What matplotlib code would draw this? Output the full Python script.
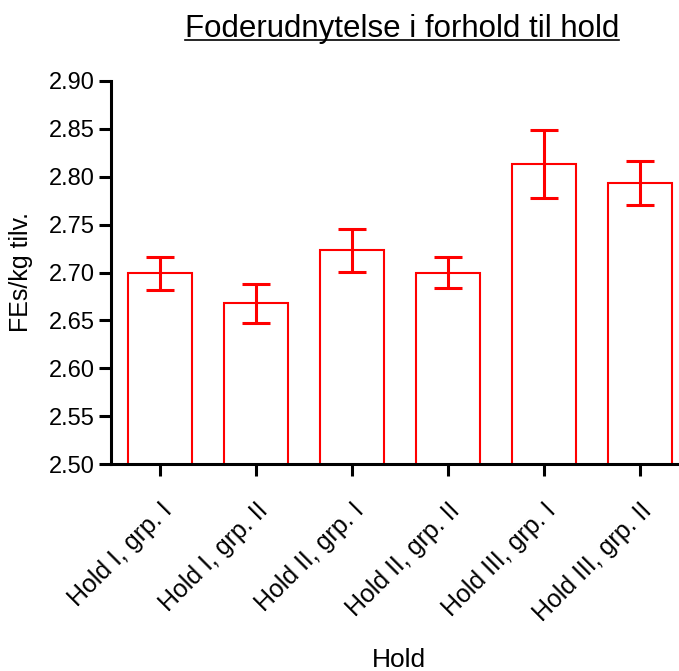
import matplotlib.pyplot as plt
from matplotlib.lines import Line2D

plt.rcParams['font.family'] = ['Liberation Sans', 'DejaVu Sans']

# data
groups = ['Hold I, grp. I', 'Hold I, grp. II', 'Hold II, grp. I',
          'Hold II, grp. II', 'Hold III, grp. I', 'Hold III, grp. II']
means = [2.699, 2.668, 2.723, 2.700, 2.813, 2.793]
errors = [0.0175, 0.0205, 0.022, 0.016, 0.0355, 0.023]
yticks = [2.50, 2.55, 2.60, 2.65, 2.70, 2.75, 2.80, 2.85, 2.90]

fig = plt.figure(figsize=(6.79, 6.71), dpi=100)
ax = fig.add_axes([111 / 679, 1 - 464.3 / 671, 566 / 679, 383.6 / 671])

x = list(range(len(groups)))
ax.bar(x, means, width=0.667, facecolor='white', edgecolor='red', linewidth=1.5)
ax.errorbar(x, means, yerr=errors, fmt='none', ecolor='red',
            elinewidth=2.2, capsize=10, capthick=2.2)

ax.set_ylim(2.5, 2.9)
ax.set_xlim(-0.51, 5.39)
ax.set_yticks(yticks)
ax.set_yticklabels([f'{v:.2f}' for v in yticks], fontsize=17)
ax.set_xticks(x)
ax.set_xticklabels(groups, fontsize=18, rotation=45, ha='right', va='top',
                   rotation_mode='anchor')

for s in ['top', 'right']:
    ax.spines[s].set_visible(False)
for s in ['left', 'bottom']:
    ax.spines[s].set_linewidth(2.2)
ax.tick_params(axis='both', length=8.6, width=2.2, color='black')
ax.tick_params(axis='y', pad=3)
ax.tick_params(axis='x', pad=16)

ax.set_ylabel('FEs/kg tilv.', fontsize=18)
ax.yaxis.set_label_coords(-0.138, 0.5)
ax.set_xlabel('Hold', fontsize=19)
ax.xaxis.set_label_coords(0.509, -0.479)

title = fig.text(402 / 679, 1 - 37.3 / 671, 'Foderudnytelse i forhold til hold',
                 ha='center', va='baseline', fontsize=22.5)

# underline the title
fig.canvas.draw()
bb = title.get_window_extent()
yline = (671 - 39.5) / 671
fig.add_artist(Line2D([bb.x0 / 679, bb.x1 / 679], [yline, yline],
                      transform=fig.transFigure, color='black', linewidth=1.2))

fig.savefig('out.png', dpi=100)
